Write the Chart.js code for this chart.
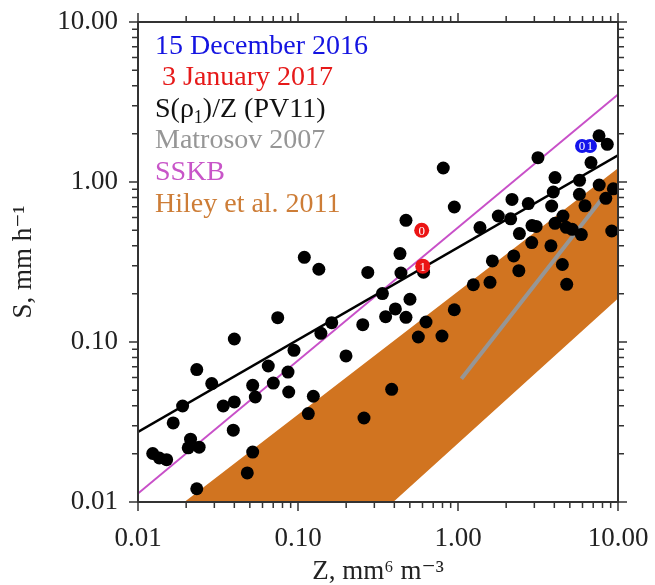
<!DOCTYPE html>
<html>
<head>
<meta charset="utf-8">
<script src="https://cdn.jsdelivr.net/npm/chart.js@4.4.1/dist/chart.umd.min.js"></script>
<style>
  html, body { margin: 0; padding: 0; background: #fff; }
</style>
</head>
<body>
<canvas id="chart" width="655" height="585"></canvas>
<script>
// measured points, Z (mm6 m-3) and S (mm h-1)
var pointsZ = [0.0233, 0.0289, 0.0190, 0.0166, 0.01236, 0.01359, 0.0151, 0.0213, 0.0206, 0.0241,
               0.0233, 0.0341, 0.0400, 0.0394, 0.0521, 0.0541, 0.0652, 0.0701, 0.0866, 0.0875,
               0.0521, 0.0482, 0.0747, 0.0400, 0.0944, 0.1095, 0.135, 0.273, 0.434, 0.440,
               0.609, 0.337, 0.353, 0.406, 0.1625, 0.139, 0.254, 0.1995, 0.501, 0.473,
               0.631, 0.565, 0.794, 0.948, 0.385, 0.1247, 0.116, 0.2585, 0.809, 0.948,
               0.473, 1.372, 1.786, 2.175, 2.134, 2.75, 3.16, 4.04, 3.94, 3.85,
               2.42, 2.90, 3.08, 2.89, 4.04, 4.53, 4.75, 5.17, 5.90, 3.81,
               4.49, 4.78, 2.23, 2.40, 1.64, 1.585, 1.247, 5.75, 5.74, 6.22,
               6.78, 7.61, 8.57, 7.63, 8.39, 9.35, 9.14];
var pointsS = [0.0672, 0.0550, 0.0398, 0.0312, 0.0201, 0.01884, 0.0184, 0.0247, 0.0218, 0.0220,
               0.0121, 0.0398, 0.0422, 0.0281, 0.0536, 0.0453, 0.0708, 0.0554, 0.0649, 0.0487,
               0.0205, 0.0152, 0.142, 0.1044, 0.0887, 0.338, 0.285, 0.272, 0.357, 0.270,
               0.273, 0.2007, 0.144, 0.161, 0.132, 0.1133, 0.1284, 0.0818, 0.185, 0.1426,
               0.1334, 0.1075, 0.109, 0.159, 0.0506, 0.0458, 0.0357, 0.0335, 1.223, 0.698,
               0.576, 0.519, 0.613, 0.778, 0.589, 0.733, 1.42, 1.065, 0.866, 0.708,
               0.476, 0.534, 0.528, 0.418, 0.552, 0.613, 0.521, 0.506, 0.469, 0.399,
               0.305, 0.2294, 0.345, 0.279, 0.321, 0.236, 0.228, 1.025, 0.838, 0.710,
               1.322, 1.944, 1.72, 0.958, 0.791, 0.906, 0.494];

// labelled case points
var dec15Z = [5.96, 6.68];
var dec15S = [1.68, 1.68];
var dec15Labels = ['0', '1'];
var jan3Z = [0.593, 0.602];
var jan3S = [0.499, 0.298];
var jan3Labels = ['0', '1'];

// relations
var pv11Z = [0.01, 10];
var pv11S = [0.0274, 1.47];
var sskbZ = [0.01, 10];
var sskbS = [0.0113, 3.52];
var matrosovZ = [1.05, 7.9];
var matrosovS = [0.059, 0.78];
var hileyZ = [0.0195, 10, 10, 0.394];
var hileyS = [0.01, 1.22, 0.187, 0.01];

var legendTexts = ['15 December 2016', ' 3 January 2017', 'S(ρ_1)/Z (PV11)', 'Matrosov 2007', 'SSKB', 'Hiley et al. 2011'];
var legendColors = ['rgb(20,20,225)', 'rgb(230,25,25)', '#111', 'rgb(150,150,150)', 'rgb(200,85,200)', 'rgb(205,125,55)'];

var serif = "'Liberation Serif', 'DejaVu Serif', serif";

var tickValues = [];
[0.01, 0.1, 1].forEach(function(d) {
    for (var k = 1; k <= 9; k++) tickValues.push(d * k);
});
tickValues.push(10);

function isDecade(v) {
    var l = Math.log10(v);
    return Math.abs(l - Math.round(l)) < 1e-6;
}

function pairs(xs, ys) {
    return xs.map(function(x, i) { return {x: x, y: ys[i]}; });
}

function decadeLabel(value) {
    return isDecade(value) ? Number(value).toFixed(2) : '';
}

var frameTicks = {
    id: 'frameTicks',
    afterDraw: function(chart) {
        var ctx = chart.ctx, a = chart.chartArea;
        var sx = chart.scales.x, sy = chart.scales.y;
        ctx.save();
        ctx.strokeStyle = '#333';
        ctx.lineWidth = 2;
        ctx.strokeRect(a.left, a.top, a.right - a.left, a.bottom - a.top);
        ctx.lineWidth = 1.5;
        ctx.beginPath();
        tickValues.forEach(function(v) {
            var len = isDecade(v) ? 9 : 6;
            var px = sx.getPixelForValue(v), py = sy.getPixelForValue(v);
            ctx.moveTo(px, a.bottom); ctx.lineTo(px, a.bottom + len);
            ctx.moveTo(px, a.top); ctx.lineTo(px, a.top - len);
            ctx.moveTo(a.left, py); ctx.lineTo(a.left - len, py);
            ctx.moveTo(a.right, py); ctx.lineTo(a.right + len, py);
        });
        ctx.stroke();
        ctx.restore();
    }
};

var legendText = {
    id: 'legendText',
    afterDraw: function(chart) {
        var ctx = chart.ctx;
        ctx.save();
        ctx.textBaseline = 'alphabetic';
        ctx.textAlign = 'left';
        legendTexts.forEach(function(t, i) {
            var x = chart.chartArea.left + 17;
            var y = 53.5 + i * 31.65;
            ctx.fillStyle = legendColors[i];
            // "_c" draws c as a subscript
            var parts = t.split('_');
            parts.forEach(function(p, j) {
                if (j > 0) {
                    ctx.font = '18px ' + serif;
                    ctx.fillText(p[0], x, y + 6);
                    x += ctx.measureText(p[0]).width;
                    p = p.slice(1);
                }
                ctx.font = '28px ' + serif;
                ctx.fillText(p, x, y);
                x += ctx.measureText(p).width;
            });
        });
        ctx.restore();
    }
};

var pointLabels = {
    id: 'pointLabels',
    afterDatasetsDraw: function(chart) {
        var ctx = chart.ctx;
        ctx.save();
        ctx.fillStyle = '#fff';
        ctx.font = '13px ' + serif;
        ctx.textAlign = 'center';
        ctx.textBaseline = 'middle';
        [[0, jan3Labels], [1, dec15Labels]].forEach(function(d) {
            chart.getDatasetMeta(d[0]).data.forEach(function(pt, i) {
                ctx.fillText(d[1][i], pt.x, pt.y + 1);
            });
        });
        ctx.restore();
    }
};

var config = {
    type: 'line',
    data: {
        datasets: [
            {
                label: '3 January 2017',
                data: pairs(jan3Z, jan3S),
                showLine: false,
                pointRadius: 7.5,
                pointBackgroundColor: 'rgb(235,20,20)',
                pointBorderWidth: 0,
                order: 0
            },
            {
                label: '15 December 2016',
                data: pairs(dec15Z, dec15S),
                showLine: false,
                pointRadius: 7,
                pointBackgroundColor: 'rgb(20,20,235)',
                pointBorderWidth: 0,
                order: 0
            },
            {
                label: 'observations',
                data: pairs(pointsZ, pointsS),
                showLine: false,
                pointRadius: 6.5,
                pointBackgroundColor: '#000',
                pointBorderWidth: 0,
                order: 1
            },
            {
                label: 'S(ρ1)/Z (PV11)',
                data: pairs(pv11Z, pv11S),
                borderColor: '#000',
                borderWidth: 2.5,
                pointRadius: 0,
                order: 2
            },
            {
                label: 'SSKB',
                data: pairs(sskbZ, sskbS),
                borderColor: 'rgb(200,80,200)',
                borderWidth: 2,
                pointRadius: 0,
                order: 3
            },
            {
                label: 'Matrosov 2007',
                data: pairs(matrosovZ, matrosovS),
                borderColor: 'rgb(150,150,150)',
                borderWidth: 4,
                pointRadius: 0,
                order: 4
            },
            {
                label: 'Hiley et al. 2011',
                data: pairs(hileyZ, hileyS),
                borderColor: 'rgba(0,0,0,0)',
                borderWidth: 0,
                backgroundColor: 'rgb(209,116,32)',
                fill: 'shape',
                pointRadius: 0,
                order: 5
            }
        ]
    },
    options: {
        responsive: false,
        animation: false,
        layout: { padding: { top: 22, right: 37, left: 0, bottom: 0 } },
        plugins: {
            legend: { display: false },
            tooltip: { enabled: false }
        },
        scales: {
            x: {
                type: 'logarithmic',
                min: 0.01,
                max: 10,
                grid: { display: false, drawTicks: false },
                border: { display: false },
                ticks: {
                    autoSkip: false,
                    maxRotation: 0,
                    padding: 21,
                    color: '#222',
                    font: { family: serif, size: 27 },
                    callback: decadeLabel
                },
                title: {
                    display: true,
                    text: 'Z, mm⁶ m⁻³',
                    color: '#222',
                    padding: 0,
                    font: { family: serif, size: 27, lineHeight: 1 }
                },
                afterFit: function(scale) {
                    scale.height = 83;
                    scale.paddingLeft = 0;
                    scale.paddingRight = 0;
                }
            },
            y: {
                type: 'logarithmic',
                min: 0.01,
                max: 10,
                grid: { display: false, drawTicks: false },
                border: { display: false },
                ticks: {
                    autoSkip: false,
                    padding: 20,
                    color: '#222',
                    font: { family: serif, size: 27 },
                    callback: decadeLabel
                },
                title: {
                    display: true,
                    text: 'S, mm h⁻¹',
                    color: '#222',
                    padding: { top: 10, bottom: 0 },
                    font: { family: serif, size: 27, lineHeight: 1 }
                },
                afterFit: function(scale) {
                    scale.width = 138;
                    scale.paddingTop = 0;
                    scale.paddingBottom = 0;
                }
            }
        }
    },
    plugins: [frameTicks, legendText, pointLabels]
};

var chart = new Chart(document.getElementById('chart'), config);
</script>
</body>
</html>
